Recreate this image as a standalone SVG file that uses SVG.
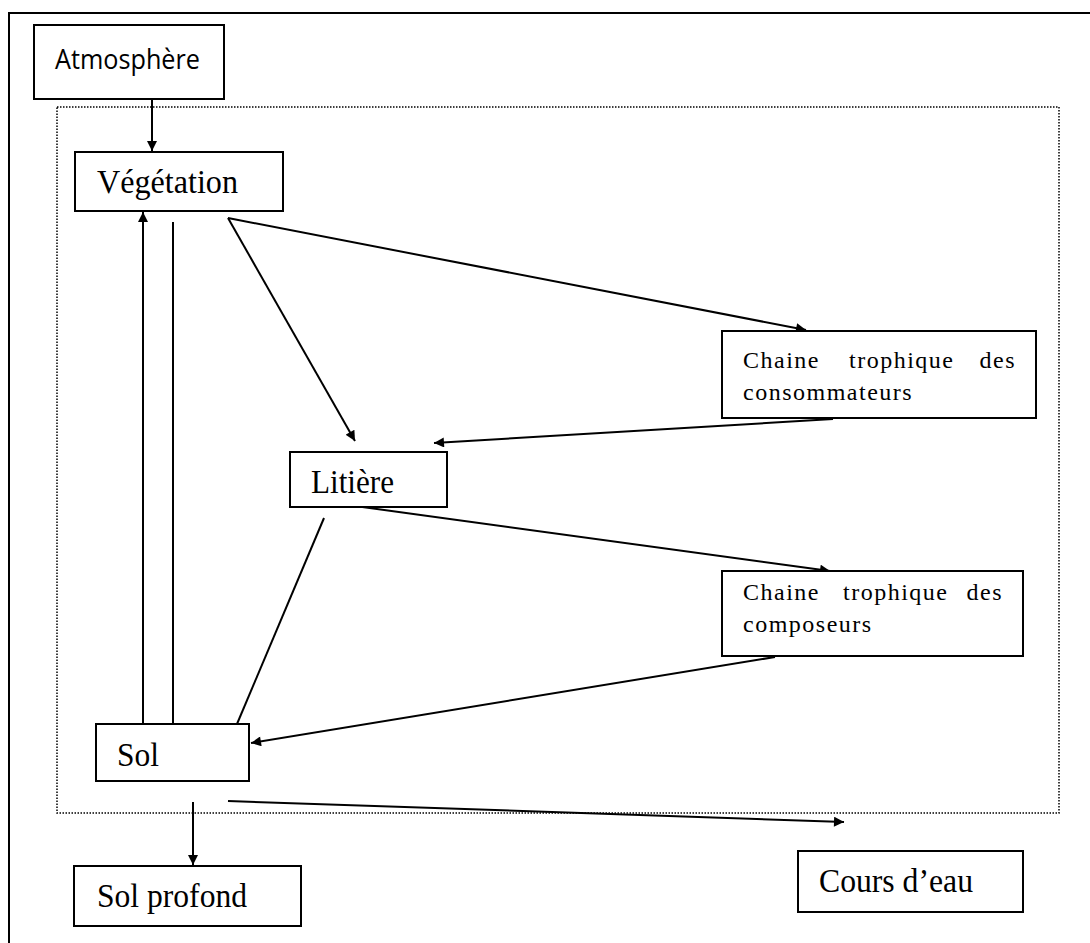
<svg xmlns="http://www.w3.org/2000/svg" width="1090" height="943" viewBox="0 0 1090 943">
<style>
.box{fill:#fff;stroke:#000;stroke-width:2}
.t{font-family:"Liberation Serif","Times New Roman",serif;font-size:34px;fill:#000}
.s{font-family:"Liberation Serif","Times New Roman",serif;font-size:24px;fill:#000;letter-spacing:1.5px}
.a{font-family:"Open Sans","Liberation Sans",sans-serif;font-size:28px;fill:#000}
.c{stroke:#000;stroke-width:2;fill:none}
.ar{marker-end:url(#ah)}
</style>
<defs>
<marker id="ah" viewBox="0 0 10 10" refX="10" refY="5" markerWidth="12" markerHeight="10" markerUnits="userSpaceOnUse" orient="auto">
<path d="M0,0 L10,5 L0,10 z" fill="#000"/>
</marker>
</defs>
<rect width="1090" height="943" fill="#fff"/>
<g id="frame">
<path d="M9,943 V13 H1090" fill="none" stroke="#000" stroke-width="2"/>
<rect x="57" y="107" width="1002" height="706" fill="none" stroke="#000" stroke-width="1.5" stroke-dasharray="1.5,1.5"/>
</g>
<g id="connectors">
<line class="c ar" x1="152" y1="99" x2="152" y2="151"/>
<line class="c ar" x1="143" y1="724" x2="143" y2="212"/>
<line class="c" x1="173" y1="222" x2="173" y2="724"/>
<line class="c ar" x1="228" y1="218" x2="806" y2="330"/>
<line class="c ar" x1="228" y1="218" x2="355" y2="441"/>
<line class="c ar" x1="833" y1="419" x2="434" y2="443"/>
<line class="c ar" x1="355" y1="506" x2="830" y2="571"/>
<line class="c" x1="324" y1="518" x2="237" y2="724"/>
<line class="c ar" x1="775" y1="657" x2="251" y2="743"/>
<line class="c ar" x1="193" y1="802" x2="193" y2="865"/>
<line class="c ar" x1="228" y1="801" x2="844" y2="822"/>
</g>
<g id="atmosphere">
<rect class="box" x="34" y="25" width="190" height="74"/>
<text class="a" x="55" y="69" textLength="145" lengthAdjust="spacingAndGlyphs">Atmosphère</text>
</g>
<g id="vegetation">
<rect class="box" x="75" y="152" width="208" height="59"/>
<text class="t" x="97" y="193" textLength="141" lengthAdjust="spacingAndGlyphs">Végétation</text>
</g>
<g id="chaine-consommateurs">
<rect class="box" x="722" y="331" width="314" height="87"/>
<text class="s" x="743" y="368">Chaine</text>
<text class="s" x="849" y="368">trophique</text>
<text class="s" x="1016" y="368" text-anchor="end">des</text>
<text class="s" x="743" y="400">consommateurs</text>
</g>
<g id="litiere">
<rect class="box" x="290" y="452" width="157" height="55"/>
<text class="t" x="311" y="493" textLength="83" lengthAdjust="spacingAndGlyphs">Litière</text>
</g>
<g id="chaine-composeurs">
<rect class="box" x="722" y="571" width="301" height="85"/>
<text class="s" x="743" y="600">Chaine</text>
<text class="s" x="843" y="600">trophique</text>
<text class="s" x="1003" y="600" text-anchor="end">des</text>
<text class="s" x="743" y="632">composeurs</text>
</g>
<g id="sol">
<rect class="box" x="96" y="724" width="153" height="57"/>
<text class="t" x="117" y="766" textLength="42" lengthAdjust="spacingAndGlyphs">Sol</text>
</g>
<g id="sol-profond">
<rect class="box" x="74" y="866" width="227" height="60"/>
<text class="t" x="97" y="907" textLength="150" lengthAdjust="spacingAndGlyphs">Sol profond</text>
</g>
<g id="cours-deau">
<rect class="box" x="798" y="851" width="225" height="61"/>
<text class="t" x="819" y="892" textLength="154" lengthAdjust="spacingAndGlyphs">Cours d’eau</text>
</g>
</svg>
